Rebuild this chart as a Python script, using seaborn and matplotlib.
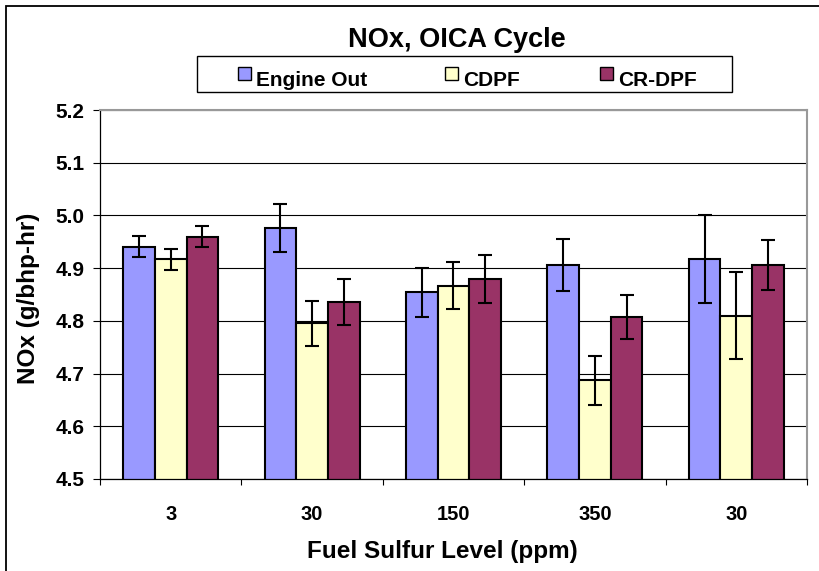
import numpy as np
import pandas as pd
import matplotlib
matplotlib.use("Agg")
import matplotlib.pyplot as plt
from matplotlib.patches import Rectangle
import seaborn as sns

# Data
fuel_labels = ["3", "30", "150", "350", "30"]
systems = ["Engine Out", "CDPF", "CR-DPF"]
engine_out = [4.941, 4.976, 4.854, 4.906, 4.917]
engine_out_err = [0.020, 0.045, 0.046, 0.050, 0.083]
cdpf = [4.917, 4.795, 4.867, 4.687, 4.810]
cdpf_err = [0.020, 0.043, 0.045, 0.047, 0.082]
cr_dpf = [4.960, 4.836, 4.879, 4.807, 4.906]
cr_dpf_err = [0.020, 0.044, 0.046, 0.042, 0.048]
colors = ["#9999FF", "#FFFFCC", "#993366"]

W, H = 820, 571


def px(x, y):
    # pixel position (from top-left) -> figure fraction
    return x / W, 1 - y / H


def main():
    plt.rcParams["font.family"] = ["Liberation Sans", "DejaVu Sans"]
    plt.rcParams["font.weight"] = "bold"

    # long table; the key keeps the two "30" groups apart
    keys = [f"g{i}" for i in range(len(fuel_labels))]
    df = pd.DataFrame({
        "key": keys * 3,
        "system": np.repeat(systems, len(keys)),
        "nox": engine_out + cdpf + cr_dpf,
        "err": engine_out_err + cdpf_err + cr_dpf_err,
    })

    fig = plt.figure(figsize=(W / 100, H / 100), dpi=100)
    left, top, right, bottom = 100, 110, 807, 479
    ax = fig.add_axes([left / W, 1 - bottom / H, (right - left) / W, (bottom - top) / H])

    sns.barplot(data=df, x="key", y="nox", hue="system", order=keys, hue_order=systems,
                palette=colors, saturation=1, width=0.672, gap=0, edgecolor="black",
                linewidth=1.5, errorbar=None, legend=False, ax=ax, zorder=2)

    # error bars on the centres of the drawn bars
    for cont, name in zip(ax.containers, systems):
        sub = df[df["system"] == name]
        xs = [b.get_x() + b.get_width() / 2 for b in cont]
        ys = [b.get_height() for b in cont]
        ax.errorbar(xs, ys, yerr=sub["err"].values, fmt="none", ecolor="black",
                    elinewidth=1.5, capsize=4.7, capthick=1.5, zorder=3)

    ax.set_ylim(4.5, 5.2)
    ax.set_xlim(-0.5, len(keys) - 0.5)
    ax.set_yticks(np.arange(4.5, 5.21, 0.1))
    ax.set_yticklabels([f"{v:.1f}" for v in np.arange(4.5, 5.21, 0.1)])
    ax.set_xticks(range(len(keys)))
    ax.set_xticklabels(fuel_labels)
    ax.set_xticks(np.arange(-0.5, len(keys), 1.0), minor=True)
    ax.tick_params(axis="x", which="major", length=0, pad=19, labelsize=14.5)
    ax.tick_params(axis="x", which="minor", length=4.5, width=0.8, direction="out")
    ax.tick_params(axis="y", length=5, width=0.8, pad=6, labelsize=15)
    for lab in ax.get_xticklabels() + ax.get_yticklabels():
        lab.set_fontweight("bold")

    ax.yaxis.grid(True, color="black", linewidth=0.8, zorder=0)
    ax.set_axisbelow(True)
    for side in ["left", "bottom"]:
        ax.spines[side].set_color("black")
        ax.spines[side].set_linewidth(0.9)
    for side in ["top", "right"]:
        ax.spines[side].set_color("#999999")
        ax.spines[side].set_linewidth(1.5)

    ax.set_xlabel("Fuel Sulfur Level (ppm)", fontsize=17.5, fontweight="bold")
    ax.set_ylabel("NOx (g/bhp-hr)", fontsize=17.5, fontweight="bold")
    ax.xaxis.set_label_coords(0.4844, -0.165)
    ax.yaxis.set_label_coords(-0.085, 0.49)
    ax.xaxis.label.set_va("top")

    fig.text(*px(457, 40), "NOx, OICA Cycle", fontsize=19.5, fontweight="bold",
             ha="center", va="center")

    # legend box drawn like the original (spread entries)
    x0, y0 = px(197, 92)
    x1, y1 = px(732, 56)
    fig.add_artist(Rectangle((x0, y0), x1 - x0, y1 - y0, transform=fig.transFigure,
                             facecolor="white", edgecolor="black", linewidth=1.0))
    for name, col, sx in zip(systems, colors, [238, 445, 600]):
        bx, by = px(sx, 80)
        fig.add_artist(Rectangle((bx, by), 13 / W, 13 / H, transform=fig.transFigure,
                                 facecolor=col, edgecolor="black", linewidth=1.0))
        fig.text(*px(sx + 18, 85.7), name, fontsize=15, fontweight="bold",
                 ha="left", va="baseline")

    # chart-area border (left and top visible)
    bx, by = px(6, H + 10)
    fig.add_artist(Rectangle((bx, by), (W + 10) / W, (H + 4) / H, transform=fig.transFigure,
                             facecolor="none", edgecolor="black", linewidth=1.3,
                             clip_on=False))

    fig.savefig("out.png", dpi=100)


if __name__ == "__main__":
    main()
